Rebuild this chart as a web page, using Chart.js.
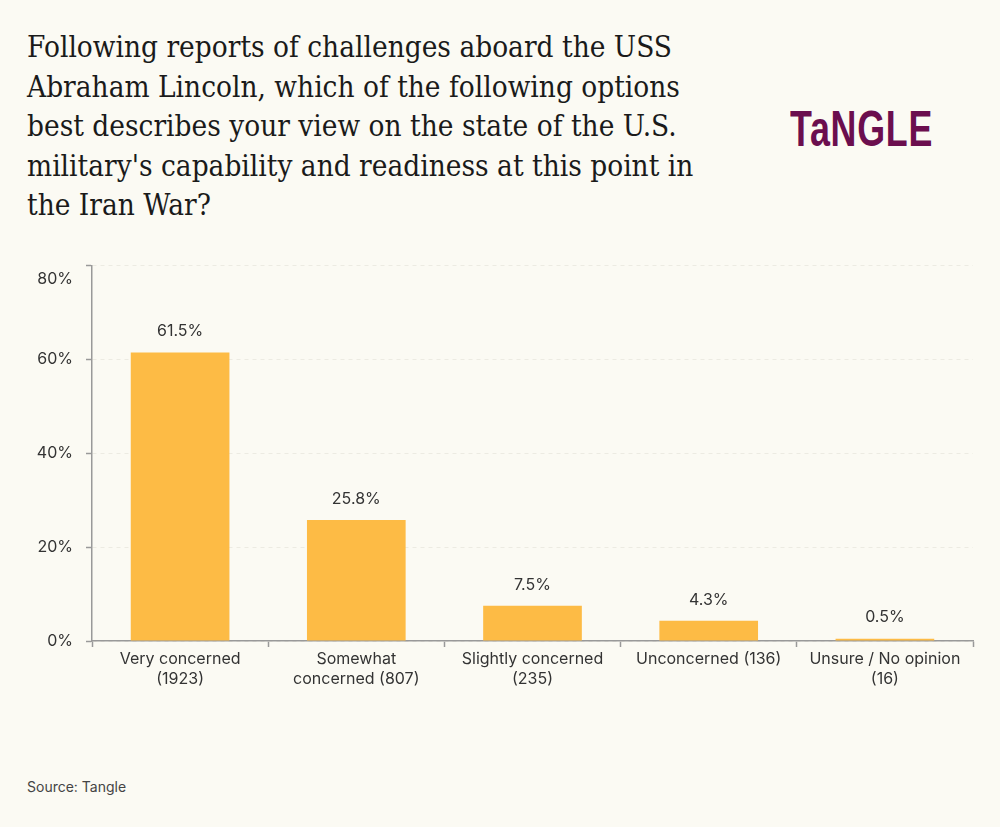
<!DOCTYPE html>
<html>
<head>
<meta charset="utf-8">
<script src="https://cdn.jsdelivr.net/npm/chart.js@4/dist/chart.umd.min.js"></script>
<style>
  html, body { margin: 0; padding: 0; background: #FBFAF3; }
  body { width: 1000px; height: 827px; position: relative; overflow: hidden; }
  #title { position: absolute; left: 27px; top: 28px; font-family: "DejaVu Serif", serif; font-size: 29px; line-height: 39.5px; color: #1a1a1a; transform-origin: 0 0; white-space: nowrap; }
  #logo { position: absolute; left: 790px; top: 99px; font-family: "Liberation Sans Narrow", "Liberation Sans", sans-serif; font-weight: bold; font-size: 50px; line-height: 60px; color: #6B0E4E; letter-spacing: 1px; transform-origin: 0 0; white-space: nowrap; }
  #source { position: absolute; left: 27px; top: 778px; font-family: Inter, "Liberation Sans", sans-serif; font-size: 14px; color: #444; }
  #wrap { position: absolute; left: 0; top: 243px; width: 1000px; height: 472px; }
</style>
</head>
<body>
<div id="title"><span id="t1">Following reports of challenges aboard the USS</span><br>Abraham Lincoln, which of the following options<br>best describes your view on the state of the U.S.<br>military's capability and readiness at this point in<br>the Iran War?</div>
<div id="logo">TaNGLE</div>
<div id="source">Source: Tangle</div>
<div id="wrap"><canvas id="c"></canvas></div>
<script>
const categories = [
  ["Very concerned", "(1923)"],
  ["Somewhat", "concerned (807)"],
  ["Slightly concerned", "(235)"],
  ["Unconcerned (136)"],
  ["Unsure / No opinion", "(16)"]
];
const values = [61.5, 25.8, 7.5, 4.3, 0.5];
const yTicks = [0, 20, 40, 60, 80];
const yMax = 80;

// fit title width
const t1 = document.getElementById('t1');
const sx = 645 / t1.getBoundingClientRect().width;
document.getElementById('title').style.transform = 'scaleX(' + sx + ')';
const logo = document.getElementById('logo');
logo.style.transform = 'scaleX(' + (143 / logo.getBoundingClientRect().width) + ')';

const FONT = 'Inter, "Liberation Sans", sans-serif';

const valueLabels = {
  id: 'valueLabels',
  afterDatasetsDraw(chart) {
    const ctx = chart.ctx;
    const meta = chart.getDatasetMeta(0);
    ctx.save();
    ctx.font = '16px ' + FONT;
    ctx.fillStyle = '#333';
    ctx.textAlign = 'center';
    ctx.textBaseline = 'bottom';
    meta.data.forEach((bar, i) => {
      ctx.fillText(values[i].toFixed(1) + '%', bar.x, bar.y - 13);
    });
    // top tick label sits a little below its tick, as in the source
    const y = chart.scales.y;
    ctx.textAlign = 'right';
    ctx.textBaseline = 'middle';
    ctx.fillText(yMax + '%', y.right - 6 - 13, y.getPixelForValue(yMax) + 14);
    ctx.restore();
  }
};

new Chart(document.getElementById('c'), {
  type: 'bar',
  data: {
    labels: categories,
    datasets: [{
      data: values,
      backgroundColor: '#FDBB45',
      borderWidth: 0,
      barPercentage: 0.56,
      categoryPercentage: 1.0
    }]
  },
  options: {
    responsive: true,
    maintainAspectRatio: false,
    animation: false,
    layout: { padding: { top: 10, right: 27, left: 0, bottom: 0 } },
    plugins: { legend: { display: false }, tooltip: { enabled: false } },
    scales: {
      x: {
        afterFit(s) { s.height = 74; },
        grid: { drawOnChartArea: false, drawTicks: true, tickLength: 6, tickColor: '#999', tickWidth: 1.5 },
        border: { color: '#999', width: 1.5 },
        ticks: { color: '#333', font: { family: FONT, size: 16 }, padding: 3, maxRotation: 0, autoSkip: false }
      },
      y: {
        min: 0, max: yMax,
        afterFit(s) { s.width = 92; },
        afterBuildTicks(s) { s.ticks = yTicks.map(v => ({ value: v })); },
        grid: { color: '#ECEBE2', lineWidth: 1, drawTicks: true, tickLength: 6, tickColor: '#999', tickWidth: 1.5, tickBorderDash: [] },
        border: { color: '#999', width: 1.5, dash: [4, 4] },
        ticks: { color: '#333', font: { family: FONT, size: 16 }, padding: 13, callback: v => (v === yMax ? '' : v + '%') }
      }
    }
  },
  plugins: [valueLabels]
});
</script>
</body>
</html>
